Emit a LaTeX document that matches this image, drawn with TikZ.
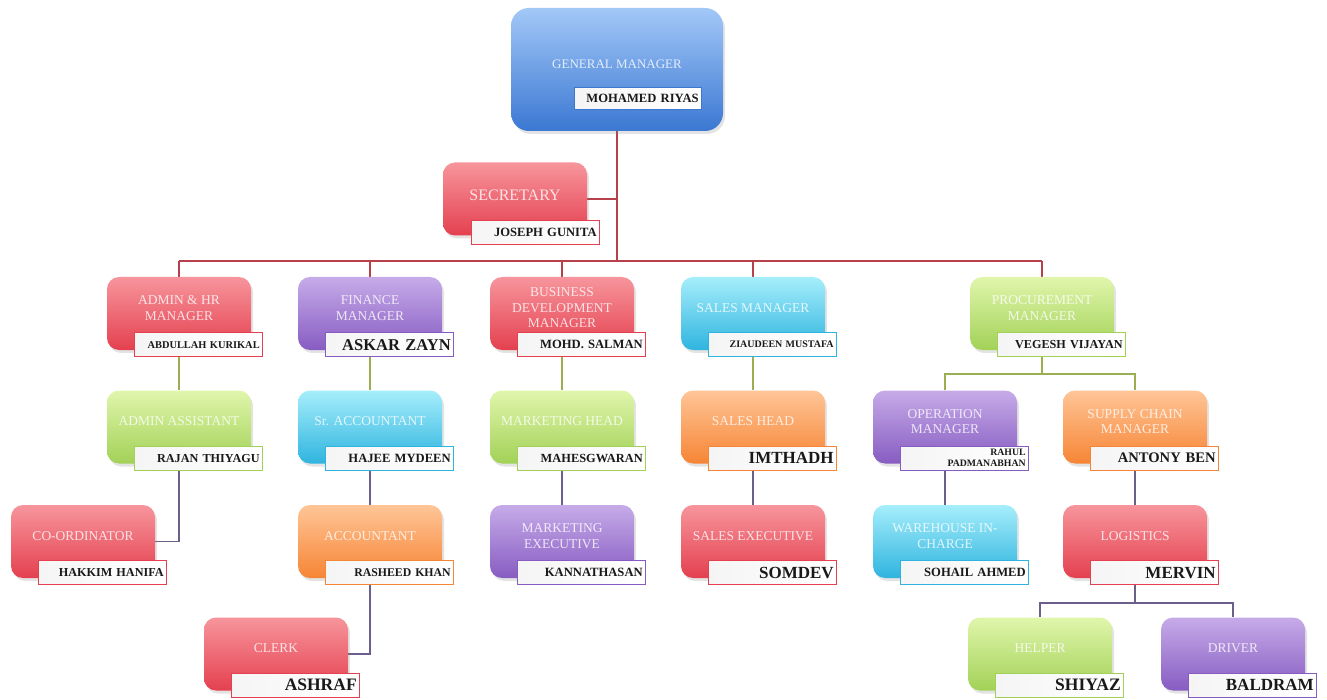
\documentclass[tikz,border=0pt]{standalone}
\usepackage{fontspec}
\setmainfont{Liberation Serif}
\usetikzlibrary{positioning,shadows,backgrounds}

\definecolor{bluetop}{HTML}{A3C8F8}
\definecolor{bluebot}{HTML}{3B78D2}
\definecolor{redtop}{HTML}{F7959C}
\definecolor{redbot}{HTML}{E4404F}
\definecolor{purpletop}{HTML}{C6ABE8}
\definecolor{purplebot}{HTML}{875CC2}
\definecolor{cyantop}{HTML}{A6EEFB}
\definecolor{cyanbot}{HTML}{2FB4DF}
\definecolor{greentop}{HTML}{E0F6AC}
\definecolor{greenbot}{HTML}{A2D157}
\definecolor{orangetop}{HTML}{FFC597}
\definecolor{orangebot}{HTML}{F68535}
\definecolor{gmline}{HTML}{B7404D}
\definecolor{midline}{HTML}{9CAE52}
\definecolor{lowline}{HTML}{6C5F8C}

\begin{document}
\begin{tikzpicture}[x=1pt,y=-1pt,
    orgbox/.style={rounded corners=12pt, minimum width=144pt, minimum height=73pt,
      top color=#1top, bottom color=#1bot,
      drop shadow={opacity=.22, shadow xshift=2pt, shadow yshift=-3pt}},
    ttl/.style={font=\fontsize{13.5}{15.5}\selectfont, text=white, text opacity=.8, align=center},
    who/.style={draw=#1bot, line width=1pt, left color=black!4, right color=white,
      minimum height=24pt, inner xsep=3pt, inner ysep=1pt, text width=122pt,
      align=right, text=black!90},
    link/.style={line width=1.3pt, draw=#1}]

\useasboundingbox (0,0) rectangle (1327,700);

% general manager and secretary
\node[orgbox=blue, minimum width=212pt, minimum height=123pt, rounded corners=18pt] (gm) at (617,69.5) {};
\node[ttl, font=\fontsize{13}{15}\selectfont] (gm-t) at ([yshift=5pt]gm.center) {GENERAL MANAGER};
\node[who=blue, anchor=south east, text width=121pt, minimum height=22pt,
  font=\bfseries\fontsize{12.6}{14}\selectfont] (gm-n) at ([xshift=-21pt,yshift=21pt]gm.south east) {MOHAMED RIYAS};

\node[orgbox=red] (sec) at (515,199) {};
\node[ttl, font=\fontsize{16}{18}\selectfont] (sec-t) at ([yshift=4pt]sec.center) {SECRETARY};
\node[who=red, anchor=south east, font=\bfseries\fontsize{12.6}{14}\selectfont] (sec-n)
  at ([xshift=13pt,yshift=-9pt]sec.south east) {JOSEPH GUNITA};

% departments
\foreach \nm/\x/\y/\col/\job/\who/\sz in {
    adm/179/313.5/red/{ADMIN \& HR\\MANAGER}/{ABDULLAH KURIKAL}/10.4,
    fin/370/313.5/purple/{FINANCE\\MANAGER}/{ASKAR ZAYN}/16.5,
    bd/562/313.5/red/{BUSINESS\\DEVELOPMENT\\MANAGER}/{MOHD. SALMAN}/12.6,
    sal/753/313.5/cyan/{SALES MANAGER}/{ZIAUDEEN MUSTAFA}/10,
    pro/1042/313.5/green/{PROCUREMENT\\MANAGER}/{VEGESH VIJAYAN}/12.2,
    aa/179/427/green/{ADMIN ASSISTANT}/{RAJAN THIYAGU}/12.2,
    sra/370/427/cyan/{Sr. ACCOUNTANT}/{HAJEE MYDEEN}/12.6,
    mh/562/427/green/{MARKETING HEAD}/{MAHESGWARAN}/12.4,
    sh/753/427/orange/{SALES HEAD}/{IMTHADH}/17,
    op/945/427/purple/{OPERATION\\MANAGER}/{RAHUL\\PADMANABHAN}/9.8,
    sc/1135/427/orange/{SUPPLY CHAIN\\MANAGER}/{ANTONY BEN}/14.6,
    co/83/541.5/red/{CO-ORDINATOR}/{HAKKIM HANIFA}/12.2,
    acc/370/541.5/orange/{ACCOUNTANT}/{RASHEED KHAN}/11.8,
    mex/562/541.5/purple/{MARKETING\\EXECUTIVE}/{KANNATHASAN}/12.6,
    sex/753/541.5/red/{SALES EXECUTIVE}/{SOMDEV}/17,
    wh/945/541.5/cyan/{WAREHOUSE IN-\\CHARGE}/{SOHAIL AHMED}/12.6,
    lg/1135/541.5/red/{LOGISTICS}/{MERVIN}/17,
    clk/276/654/red/{CLERK}/{ASHRAF}/17.5,
    hlp/1040/654/green/{HELPER}/{SHIYAZ}/17.5,
    drv/1233/654/purple/{DRIVER}/{BALDRAM}/17}{
  \node[orgbox=\col] (\nm) at (\x,\y) {};
  \node[ttl] (\nm-t) at ([yshift=5.5pt]\nm.center) {\job};
  \node[who=\col, anchor=south east, font=\bfseries\fontsize{\sz}{11}\selectfont] (\nm-n)
    at ([xshift=12pt,yshift=-7pt]\nm.south east) {\who};
}

% connectors
\begin{scope}[on background layer]
  \coordinate (bus) at (617,261);
  \coordinate (pj) at (1042,374);
  \coordinate (lj) at (1135,603);
  \draw[link=gmline] (gm.south) -- (bus);
  \draw[link=gmline] (sec.east) -- (sec.east -| bus);
  \draw[link=gmline] (bus -| adm.north) -- (bus -| pro.north);
  \foreach \nm in {adm,fin,bd,sal,pro}
    \draw[link=gmline] (bus -| \nm.north) -- (\nm.north);
  \foreach \a/\b in {adm/aa,fin/sra,bd/mh,sal/sh}
    \draw[link=midline] (\a.south) -- (\b.north);
  \draw[link=midline] (pro.south) -- (pj);
  \draw[link=midline] (op.north) |- (pj) -| (sc.north);
  \draw[link=lowline] (aa.south) |- (co.east);
  \foreach \a/\b in {sra/acc,mh/mex,sh/sex,op/wh,sc/lg}
    \draw[link=lowline] (\a.south) -- (\b.north);
  \draw[link=lowline] (acc.south) |- (clk.east);
  \draw[link=lowline] (lg.south) -- (lj);
  \draw[link=lowline] (hlp.north) |- (lj) -| (drv.north);
\end{scope}
\end{tikzpicture}
\end{document}
